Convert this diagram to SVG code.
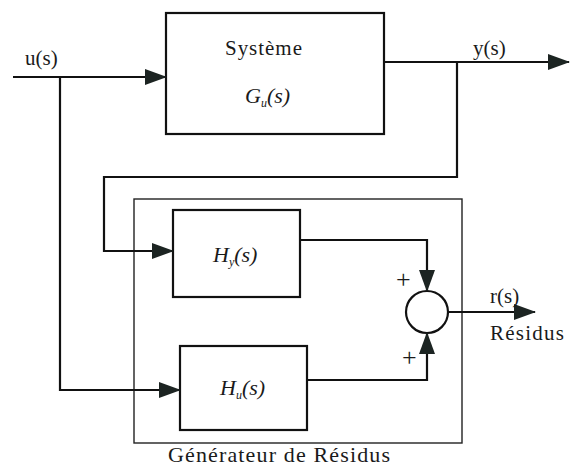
<svg xmlns="http://www.w3.org/2000/svg" width="570" height="474" viewBox="0 0 570 474">
<style>
  .box { fill: #ffffff; stroke: #111111; stroke-width: 2.2; }
  .outer { fill: none; stroke: #222222; stroke-width: 1.4; }
  .wire { fill: none; stroke: #111111; stroke-width: 2.2; }
  .t { font-size: 21px; fill: #1a1a1a; }
  .ti { font-size: 22px; font-style: italic; fill: #1a1a1a; }
  .g { font-size: 22px; fill: #1a1a1a; }
  .sub { font-size: 12px; }
  .plus { font-size: 26px; fill: #1a1a1a; }
</style>
<defs>
  <marker id="arr" markerUnits="userSpaceOnUse" markerWidth="22" markerHeight="16" refX="21" refY="8" orient="auto">
    <path d="M0,0 L22,8 L0,16 Z" fill="#1c2422"/>
  </marker>
</defs>
<rect width="570" height="474" fill="#ffffff"/>

<g font-family="Liberation Serif, Times New Roman, serif">
<g id="generateur">
  <rect class="outer" x="134" y="199" width="328" height="244"/>
  <text class="g" x="168" y="462" textLength="222" lengthAdjust="spacing">Générateur de Résidus</text>
</g>

<g id="systeme">
  <rect class="box" x="166" y="13" width="218" height="121"/>
  <text class="t" x="225" y="55" textLength="77" lengthAdjust="spacing">Système</text>
  <text class="ti" x="245" y="103">G<tspan class="sub" dy="4">u</tspan><tspan dy="-4">(s)</tspan></text>
</g>

<g id="Hy">
  <rect class="box" x="173" y="210" width="127" height="87"/>
  <text class="ti" x="213" y="262">H<tspan class="sub" dy="4">y</tspan><tspan dy="-4">(s)</tspan></text>
</g>

<g id="Hu">
  <rect class="box" x="180" y="346" width="127" height="84"/>
  <text class="ti" x="220" y="395">H<tspan class="sub" dy="4">u</tspan><tspan dy="-4">(s)</tspan></text>
</g>

<g id="sommateur">
  <circle class="box" cx="427" cy="312" r="21"/>
  <text class="plus" x="396" y="288">+</text>
  <text class="plus" x="402" y="366">+</text>
</g>

<g id="connecteurs">
  <path class="wire" d="M13,77 L166,77" marker-end="url(#arr)"/>
  <path class="wire" d="M60,77 L60,390 L180,390" marker-end="url(#arr)"/>
  <path class="wire" d="M384,62 L569,62" marker-end="url(#arr)"/>
  <path class="wire" d="M457,62 L457,177 L104,177 L104,251 L173,251" marker-end="url(#arr)"/>
  <path class="wire" d="M300,240 L427,240 L427,291" marker-end="url(#arr)"/>
  <path class="wire" d="M307,380 L427,380 L427,333" marker-end="url(#arr)"/>
  <path class="wire" d="M448,312 L535,312" marker-end="url(#arr)"/>
</g>

<g id="labels">
  <text class="t" x="25" y="65">u(s)</text>
  <text class="t" x="473" y="55">y(s)</text>
  <text class="t" x="490" y="303">r(s)</text>
  <text class="t" x="490" y="340" textLength="74" lengthAdjust="spacing">Résidus</text>
</g>
</g>
</svg>
